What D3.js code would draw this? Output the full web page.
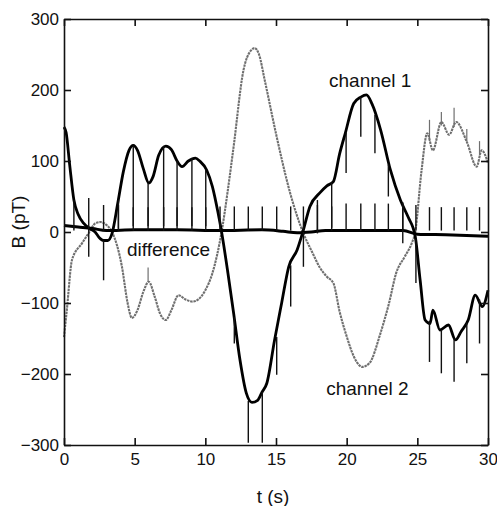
<!DOCTYPE html>
<html>
<head>
<meta charset="utf-8">
<script src="https://cdn.jsdelivr.net/npm/d3@7"></script>
<style>
  body { margin: 0; background: #fff; }
  text { font-family: "Liberation Sans", Arial, sans-serif; fill: #111; }
</style>
</head>
<body>
<svg id="svg"></svg>
<script>
// readings: [t (s), B (pT)]
const ch1 = [
  [0, 148], [0.15, 140], [0.4, 95], [0.7, 45], [1.0, 25], [1.4, 12], [1.8, 5], [2.2, 0],
  [2.5, -8], [2.8, -12], [3.1, -12], [3.4, -2], [3.8, 40], [4.2, 85], [4.6, 115], [4.9, 122],
  [5.2, 115], [5.6, 90], [6.0, 69], [6.3, 78], [6.7, 108], [7.2, 121], [7.6, 116], [8.0, 100],
  [8.35, 92], [8.8, 100], [9.3, 104], [9.6, 100], [10.1, 87], [10.5, 64], [10.9, 27], [11.15, 0],
  [11.6, -58], [12.0, -114], [12.45, -180], [12.9, -227], [13.3, -240], [13.7, -237], [14.0, -226],
  [14.35, -213], [14.9, -152], [15.4, -100], [15.9, -49], [16.5, -25], [16.9, 0], [17.4, 36],
  [18.1, 55], [18.6, 65], [19.06, 71], [19.5, 110], [19.9, 139], [20.5, 181], [21.0, 190],
  [21.4, 193], [21.8, 180], [22.4, 144], [23.1, 87], [23.8, 45], [24.35, 21], [24.85, -6],
  [25.2, -68], [25.55, -124], [25.9, -129], [26.1, -110], [26.6, -138], [27.2, -131],
  [27.7, -152], [28.1, -140], [28.6, -124], [29.1, -89], [29.6, -105], [30, -82]
]

const ch2 = [
  [0, -148], [0.2, -110], [0.57, -39], [1.27, -16], [1.8, 0], [2.2, 12], [2.6, 14], [3.0, 10],
  [3.4, 0], [4.1, -49], [4.5, -100], [4.8, -121], [5.2, -110], [5.6, -85], [6.0, -70], [6.4, -90],
  [6.8, -115], [7.2, -124], [7.6, -110], [8.1, -89], [8.6, -95], [9.1, -98], [9.5, -95],
  [10.0, -82], [10.5, -58], [11.15, 0], [11.6, 60], [12.0, 120], [12.7, 228], [13.2, 255],
  [13.5, 259], [13.8, 250], [14.2, 214], [15.05, 134], [16.0, 55], [16.9, 0], [17.6, -30],
  [18.1, -50], [18.6, -63], [19.06, -72], [19.5, -112], [20.0, -147], [20.5, -175], [21.1, -190],
  [21.6, -185], [22.4, -142], [23.0, -100], [23.5, -58], [24.1, -35], [24.6, -16], [24.85, 0],
  [25.3, 87], [25.7, 139], [26.1, 115], [26.7, 155], [27.25, 137], [27.75, 155], [28.5, 127],
  [29.2, 92], [29.55, 115], [30, 97]
]

const diff = [
  [0, 9], [1, 7], [2, 5], [3, 2], [5, 3], [8, 3], [11, 2], [14, 3], [15.5, 1], [16.5, -1],
  [17.5, 0], [18.5, 2], [20, 2], [24, 2], [25, -3], [27, -4], [30, -6]
]

// sync spikes, roughly once a second
const spikeT = [0.7, 1.75, 2.8, 3.85, 4.9, 5.95, 7.05, 8.0, 9.05, 10.03, 11.04, 12.05, 13.04, 14.03, 15.05,
  16.04, 16.94, 17.93, 18.94, 19.96, 21.0, 22.0, 22.95, 23.97, 24.9, 25.86, 26.7, 27.6, 28.5, 29.4]
const ch1SpikeFrom = [45, 5, -12, 45, 122, 69, 121, 100, 104, 88, 12, -120, -238, -225, -148,
  -47, 0, 45, 70, 140, 190, 165, 95, 42, -10, -125, -138, -150, -128, -95]
const ch1SpikeTo = [5, -35, -68, 5, 8, 8, 8, 8, 8, 8, 8, -157, -297, -297, -201,
  -105, -49, -2, 6, 83, 134, 111, 50, -16, -72, -183, -199, -211, -185, -157]
const diffSpikeTop = [10, 48, 38, 38, 35, 35, 35, 35, 35, 35, 36, 36, 36, 36, 36,
  36, 36, 38, 36, 40, 40, 40, 40, 40, 38, 35, 35, 35, 35, 35]

const ch2SpikeT = [5.95, 25.86, 26.7, 27.6, 28.5, 29.4]
const ch2SpikeFrom = [-70, 128, 150, 148, 127, 108]
const ch2SpikeTo = [-50, 158, 169, 175, 145, 128]

const xTicks = [0, 5, 10, 15, 20, 25, 30]
const yTicks = [-300, -200, -100, 0, 100, 200, 300]

const labels = [
  { text: 'channel 1', t: 18.75, v: 204 },
  { text: 'channel 2', t: 18.55, v: -230 },
  { text: 'difference', t: 4.46, v: -34 }
]

const W = 497, H = 506
const padding = { top: 19, right: 9, bottom: 61, left: 64 }
const chartArea = {
  width: W - padding.left - padding.right,
  height: H - padding.top - padding.bottom
}

const svg = d3.select('#svg')
  .attr('width', W)
  .attr('height', H)
  .style('background-color', '#ffffff')

const xScale = d3.scaleLinear().domain([0, 30]).range([0, chartArea.width])
const yScale = d3.scaleLinear().domain([-300, 300]).range([chartArea.height, 0])

const g = svg.append('g')
  .attr('transform', 'translate(' + padding.left + ',' + padding.top + ')')

const line = d3.line()
  .x(d => xScale(d[0]))
  .y(d => yScale(d[1]))
  .curve(d3.curveMonotoneX)

// grey trace
g.append('path')
  .datum(ch2)
  .attr('d', line)
  .attr('fill', 'none')
  .attr('stroke', '#6f6f6f')
  .attr('stroke-width', 2.1)
  .attr('stroke-dasharray', '2.5,0.8')

g.selectAll('.s2')
  .data(ch2SpikeT)
  .enter()
  .append('line')
  .attr('x1', d => xScale(d))
  .attr('x2', d => xScale(d))
  .attr('y1', (d, i) => yScale(ch2SpikeFrom[i]))
  .attr('y2', (d, i) => yScale(ch2SpikeTo[i]))
  .attr('stroke', '#6f6f6f')
  .attr('stroke-width', 1.2)

g.append('path')
  .datum(diff)
  .attr('d', line)
  .attr('fill', 'none')
  .attr('stroke', '#000')
  .attr('stroke-width', 3)

g.append('path')
  .datum(ch1)
  .attr('d', line)
  .attr('fill', 'none')
  .attr('stroke', '#000')
  .attr('stroke-width', 2.8)

g.selectAll('.s1')
  .data(spikeT)
  .enter()
  .append('line')
  .attr('x1', d => xScale(d))
  .attr('x2', d => xScale(d))
  .attr('y1', (d, i) => yScale(ch1SpikeFrom[i]))
  .attr('y2', (d, i) => yScale(ch1SpikeTo[i]))
  .attr('stroke', '#111')
  .attr('stroke-width', 1.4)

g.selectAll('.sd')
  .data(spikeT)
  .enter()
  .append('line')
  .attr('x1', d => xScale(d))
  .attr('x2', d => xScale(d))
  .attr('y1', yScale(2))
  .attr('y2', (d, i) => yScale(diffSpikeTop[i]))
  .attr('stroke', '#111')
  .attr('stroke-width', 1.4)

// frame with inward ticks
const tk = 7
g.append('g')
  .attr('transform', 'translate(0,' + chartArea.height + ')')
  .call(d3.axisBottom(xScale).tickValues(xTicks).tickSizeInner(-tk).tickSizeOuter(0).tickPadding(8))
g.append('g')
  .call(d3.axisTop(xScale).tickValues(xTicks).tickSizeInner(-tk).tickSizeOuter(0).tickFormat(''))
g.append('g')
  .call(d3.axisLeft(yScale).tickValues(yTicks).tickSizeInner(-tk).tickSizeOuter(0).tickPadding(5))
g.append('g')
  .attr('transform', 'translate(' + chartArea.width + ',0)')
  .call(d3.axisRight(yScale).tickValues(yTicks).tickSizeInner(-tk).tickSizeOuter(0).tickFormat(''))

g.selectAll('.domain').attr('stroke', '#111').attr('stroke-width', 1.6)
g.selectAll('.tick line').attr('stroke', '#111').attr('stroke-width', 1.6)
g.selectAll('.tick text')
  .style('font-family', '"Liberation Sans", Arial, sans-serif')
  .style('font-size', '17px')
  .attr('fill', '#111')

g.selectAll('.lbl')
  .data(labels)
  .enter()
  .append('text')
  .attr('x', d => xScale(d.t))
  .attr('y', d => yScale(d.v))
  .style('font-size', '19px')
  .text(d => d.text)

svg.append('text')
  .attr('x', 273)
  .attr('y', 503)
  .attr('text-anchor', 'middle')
  .style('font-size', '19px')
  .text('t (s)')

svg.append('text')
  .attr('transform', 'translate(25,222) rotate(-90)')
  .attr('text-anchor', 'middle')
  .style('font-size', '19px')
  .text('B (pT)')
</script>
</body>
</html>
